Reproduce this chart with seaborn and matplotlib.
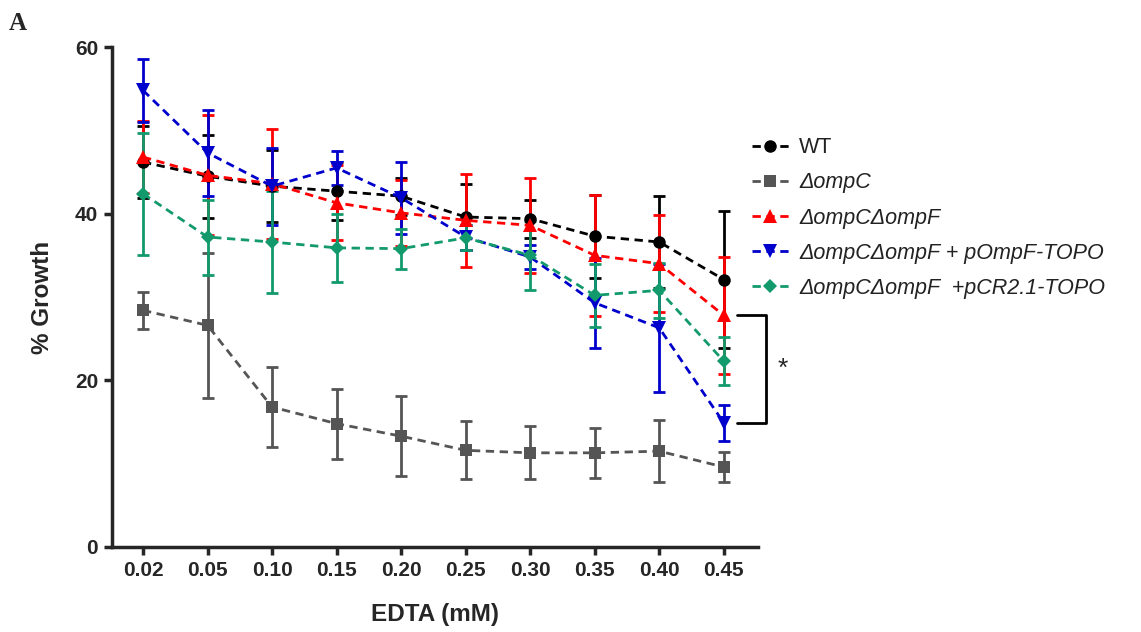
import numpy as np
import pandas as pd
import matplotlib
matplotlib.use("Agg")
import matplotlib.pyplot as plt
import seaborn as sns

# EDTA concentrations (categorical x axis)
edta = ["0.02", "0.05", "0.10", "0.15", "0.20", "0.25", "0.30", "0.35", "0.40", "0.45"]

strains = ["WT", "ΔompC", "ΔompCΔompF", "ΔompCΔompF + pOmpF-TOPO", "ΔompCΔompF  +pCR2.1-TOPO"]

wt_mean = [46.2, 44.5, 43.3, 42.7, 42.1, 39.6, 39.4, 37.3, 36.6, 32.1]
wt_err = [4.3, 5.0, 4.3, 3.5, 2.2, 4.0, 2.3, 5.0, 5.5, 8.2]

ompc_mean = [28.4, 26.6, 16.8, 14.8, 13.3, 11.6, 11.3, 11.3, 11.5, 9.6]
ompc_err = [2.2, 8.7, 4.8, 4.2, 4.8, 3.5, 3.2, 3.0, 3.7, 1.8]

ompcf_mean = [46.8, 44.6, 43.6, 41.3, 40.1, 39.2, 38.6, 35.0, 34.0, 27.8]
ompcf_err = [4.3, 7.2, 6.6, 4.5, 4.0, 5.6, 5.7, 7.3, 5.8, 7.0]

pompf_mean = [54.8, 47.3, 43.3, 45.5, 41.9, 37.2, 34.8, 29.3, 26.3, 14.9]
pompf_err = [3.8, 5.2, 4.6, 2.0, 4.3, 1.5, 1.4, 5.4, 7.7, 2.2]

pcr_mean = [42.4, 37.2, 36.6, 35.9, 35.8, 37.1, 35.0, 30.2, 30.8, 22.3]
pcr_err = [7.3, 4.5, 6.1, 4.1, 2.4, 1.5, 4.1, 3.8, 3.3, 2.9]

means = [wt_mean, ompc_mean, ompcf_mean, pompf_mean, pcr_mean]
errs = [wt_err, ompc_err, ompcf_err, pompf_err, pcr_err]

colors = ["#000000", "#555555", "#ff0000", "#0000cc", "#139a6c"]
markers = ["o", "s", "^", "v", "D"]
msizes = [9, 9, 10, 10, 7]

sns.set_style("ticks")
plt.rcParams["font.family"] = ["Liberation Sans", "DejaVu Sans"]

rows = []
for name, m, e in zip(strains, means, errs):
    for i, (v, s) in enumerate(zip(m, e)):
        rows.append({"strain": name, "pos": i, "growth": v, "sd": s})
df = pd.DataFrame(rows)

fig = plt.figure(figsize=(11.41, 6.32), dpi=100)
ax = fig.add_axes([0.0982, 0.1345, 0.5661, 0.7911])

# error bars first, then lines/markers
for name, c in zip(strains, colors):
    sub = df[df["strain"] == name]
    ax.errorbar(sub["pos"], sub["growth"], yerr=sub["sd"], fmt="none",
                ecolor=c, elinewidth=2, capsize=4.5, capthick=2, zorder=2)

for name, c, mk, ms in zip(strains, colors, markers, msizes):
    sub = df[df["strain"] == name]
    sns.lineplot(data=sub, x="pos", y="growth", color=c, marker=mk,
                 markersize=ms, markeredgewidth=0, linewidth=2,
                 linestyle=(0, (3, 2)), ax=ax, label=name, zorder=3)

ax.set_xlim(-0.48, 9.53)
ax.set_ylim(0, 60)
ax.set_xticks(range(len(edta)))
ax.set_xticklabels(edta)
ax.set_yticks([0, 20, 40, 60])
for lab in ax.get_xticklabels() + ax.get_yticklabels():
    lab.set_fontweight("bold")
    lab.set_fontsize(15)
ax.tick_params(axis="both", width=2.5, length=6, direction="out", pad=4)
for sp in ["left", "bottom"]:
    ax.spines[sp].set_linewidth(2.5)
sns.despine(ax=ax)

ax.set_xlabel("EDTA (mM)", fontsize=17.5, fontweight="bold", labelpad=17)
ax.set_ylabel("% Growth", fontsize=17.5, fontweight="bold", labelpad=15)

# significance bracket between ΔompCΔompF and + pOmpF-TOPO at 0.45
xb0, xb1 = 9.2, 9.65
y_top, y_bot = ompcf_mean[-1], pompf_mean[-1]
ax.plot([xb0, xb1, xb1, xb0], [y_top, y_top, y_bot, y_bot], color="black",
        lw=2, clip_on=False)
ax.text(xb1 + 0.27, (y_top + y_bot) / 2, "*", fontsize=19, ha="center",
        va="center")

handles, labels = ax.get_legend_handles_labels()
if ax.get_legend():
    ax.get_legend().remove()
leg = fig.legend(handles, labels, loc="upper left",
                 bbox_to_anchor=(0.659, 0.783), bbox_transform=fig.transFigure,
                 frameon=False, fontsize=15.5, handlelength=1.7,
                 labelspacing=0.66, handletextpad=0.5, borderpad=0,
                 borderaxespad=0)
for t in leg.get_texts()[1:]:
    t.set_fontstyle("italic")
for t in leg.get_texts():
    t.set_color("#222222")

fig.text(0.008, 0.952, "A", fontsize=18, fontweight="bold",
         family=["Liberation Serif", "DejaVu Serif"])

fig.savefig("out.png", dpi=100)
